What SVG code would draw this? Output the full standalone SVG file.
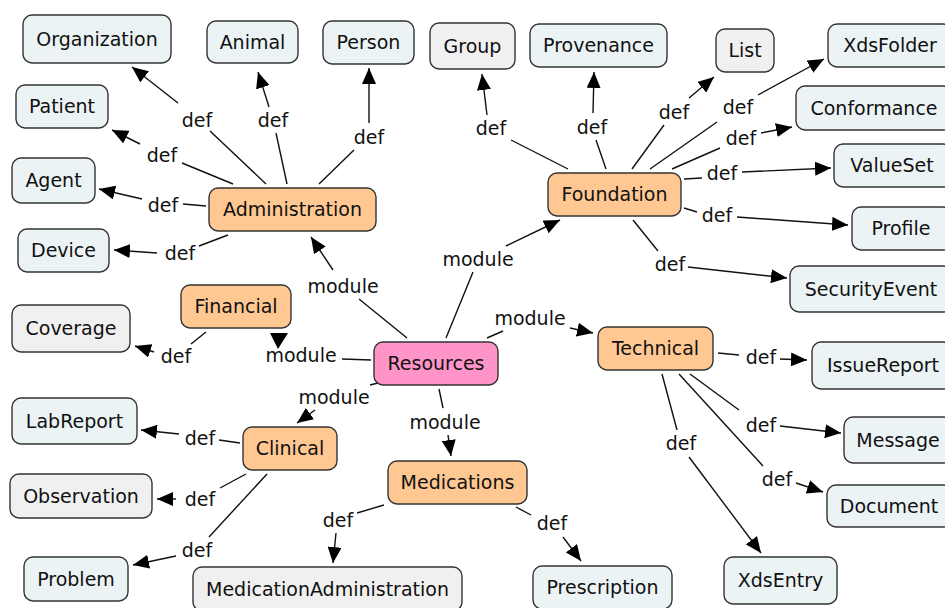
<svg xmlns="http://www.w3.org/2000/svg" width="945" height="608" viewBox="0 0 945 608">
<style>
text{font-family:"DejaVu Sans","Verdana",sans-serif;font-size:19px;fill:#111;text-anchor:middle}
.n rect{stroke:#333;stroke-width:1.4}
.b rect{fill:#ecf3f5}
.g rect{fill:#f0f0f0}
.o rect{fill:#ffc893}
.p rect{fill:#ff94c8}
#connectors line{stroke:#111;stroke-width:1.4;fill:none}
#connectors line.a{marker-end:url(#ah)}
</style>
<defs>
<marker id="ah" markerWidth="16" markerHeight="14" refX="16" refY="7" orient="auto" markerUnits="userSpaceOnUse"><path d="M0,0 L16,7 L0,14 z" fill="#000"/></marker>
</defs>
<rect width="945" height="608" fill="#fff"/>
<g id="connectors">
<line x1="266" y1="184" x2="210" y2="131"/><line class="a" x1="178" y1="103" x2="132" y2="67"/>
<line x1="233" y1="184" x2="182" y2="163"/><line class="a" x1="140" y1="144" x2="112" y2="130"/>
<line x1="206" y1="206" x2="183" y2="204"/><line class="a" x1="142" y1="199" x2="99" y2="189"/>
<line x1="228" y1="235" x2="199" y2="246"/><line class="a" x1="157" y1="253" x2="114" y2="250"/>
<line x1="287" y1="184" x2="276" y2="133"/><line class="a" x1="269" y1="107" x2="258" y2="72"/>
<line x1="319" y1="184" x2="354" y2="150"/><line class="a" x1="369" y1="123" x2="369" y2="68"/>
<line x1="407" y1="338" x2="359" y2="299"/><line class="a" x1="333" y1="270" x2="311" y2="237"/>
<line x1="568" y1="169" x2="511" y2="140"/><line class="a" x1="487" y1="115" x2="482" y2="74"/>
<line x1="606" y1="169" x2="596" y2="140"/><line class="a" x1="593" y1="113" x2="594" y2="72"/>
<line x1="632" y1="169" x2="664" y2="125"/><line class="a" x1="689" y1="98" x2="714" y2="77"/>
<line x1="650" y1="169" x2="717" y2="122"/><line class="a" x1="758" y1="95" x2="824" y2="59"/>
<line x1="672" y1="169" x2="720" y2="148"/><line class="a" x1="761" y1="133" x2="792" y2="127"/>
<line x1="684" y1="179" x2="702" y2="178"/><line class="a" x1="742" y1="172" x2="831" y2="168"/>
<line x1="684" y1="208" x2="697" y2="212"/><line class="a" x1="737" y1="217" x2="848" y2="225"/>
<line x1="633" y1="220" x2="658" y2="251"/><line class="a" x1="688" y1="267" x2="787" y2="278"/>
<line x1="446" y1="338" x2="473" y2="272"/><line class="a" x1="506" y1="246" x2="560" y2="220"/>
<line x1="487" y1="338" x2="503" y2="331"/><line class="a" x1="570" y1="328" x2="593" y2="333"/>
<line x1="371" y1="360" x2="342" y2="359"/><polygon points="270,333 288,333 278,349" fill="#000"/>
<line x1="206" y1="332" x2="191" y2="344"/><line class="a" x1="154" y1="352" x2="135" y2="346"/>
<line x1="378" y1="383" x2="370" y2="385"/><line class="a" x1="315" y1="410" x2="297" y2="423"/>
<line x1="240" y1="443" x2="219" y2="440"/><line class="a" x1="179" y1="434" x2="141" y2="430"/>
<line x1="246" y1="474" x2="220" y2="488"/><line class="a" x1="176" y1="499" x2="157" y2="499"/>
<line x1="267" y1="474" x2="209" y2="537"/><line class="a" x1="176" y1="556" x2="133" y2="565"/>
<line x1="439" y1="389" x2="443" y2="408"/><line class="a" x1="448" y1="435" x2="451" y2="456"/>
<line x1="384" y1="505" x2="357" y2="513"/><line class="a" x1="336" y1="533" x2="333" y2="563"/>
<line x1="516" y1="507" x2="531" y2="515"/><line class="a" x1="563" y1="537" x2="581" y2="561"/>
<line x1="718" y1="353" x2="739" y2="355"/><line class="a" x1="780" y1="359" x2="807" y2="360"/>
<line x1="690" y1="374" x2="739" y2="410"/><line class="a" x1="780" y1="426" x2="841" y2="433"/>
<line x1="679" y1="374" x2="763" y2="466"/><line class="a" x1="796" y1="483" x2="823" y2="492"/>
<line x1="662" y1="374" x2="677" y2="430"/><line class="a" x1="689" y1="457" x2="761" y2="553"/>
<g id="labels">
<text x="197" y="127">def</text><text x="162" y="162">def</text><text x="163" y="212">def</text>
<text x="180" y="260">def</text><text x="273" y="127">def</text><text x="369" y="144">def</text>
<text x="491" y="135">def</text><text x="592" y="134">def</text><text x="674" y="119">def</text>
<text x="738" y="114">def</text><text x="741" y="145">def</text><text x="722" y="180">def</text>
<text x="717" y="222">def</text><text x="670" y="271">def</text>
<text x="478" y="266">module</text><text x="343" y="293">module</text><text x="530" y="325">module</text>
<text x="301" y="362">module</text><text x="334" y="404">module</text><text x="445" y="429">module</text>
<text x="176" y="363">def</text>
<text x="200" y="445">def</text><text x="200" y="506">def</text><text x="197" y="557">def</text>
<text x="338" y="527">def</text><text x="552" y="530">def</text>
<text x="761" y="364">def</text><text x="761" y="432">def</text><text x="777" y="486">def</text><text x="681" y="450">def</text>
</g>
</g>
<g id="Organization" class="n b"><rect x="23" y="15" width="148" height="48" rx="9"/><text x="97" y="45.5">Organization</text></g>
<g id="Animal" class="n b"><rect x="207" y="21" width="91" height="42" rx="9"/><text x="252.5" y="48.5">Animal</text></g>
<g id="Person" class="n b"><rect x="323" y="21" width="91" height="43" rx="9"/><text x="368.5" y="49">Person</text></g>
<g id="Patient" class="n b"><rect x="16" y="85" width="92" height="43" rx="9"/><text x="62" y="113">Patient</text></g>
<g id="Agent" class="n b"><rect x="12" y="158" width="83" height="45" rx="9"/><text x="53.5" y="187">Agent</text></g>
<g id="Administration" class="n o"><rect x="209" y="188" width="167" height="43" rx="9"/><text x="292.5" y="216">Administration</text></g>
<g id="Device" class="n b"><rect x="18" y="229" width="91" height="43" rx="9"/><text x="63.5" y="257">Device</text></g>
<g id="Group" class="n g"><rect x="430" y="23" width="85" height="46" rx="9"/><text x="472.5" y="52.5">Group</text></g>
<g id="Provenance" class="n b"><rect x="530" y="24" width="137" height="43" rx="9"/><text x="598.5" y="52">Provenance</text></g>
<g id="List" class="n g"><rect x="716" y="29" width="58" height="43" rx="9"/><text x="745" y="57">List</text></g>
<g id="XdsFolder" class="n b"><rect x="828" y="24" width="124" height="43" rx="9"/><text x="890" y="52">XdsFolder</text></g>
<g id="Conformance" class="n b"><rect x="796" y="86" width="156" height="44" rx="9"/><text x="874" y="114.5">Conformance</text></g>
<g id="ValueSet" class="n b"><rect x="834" y="144" width="118" height="43" rx="9"/><text x="892" y="172">ValueSet</text></g>
<g id="Foundation" class="n o"><rect x="548" y="173" width="133" height="43" rx="9"/><text x="614.5" y="201">Foundation</text></g>
<g id="Profile" class="n b"><rect x="852" y="207" width="100" height="43" rx="9"/><text x="901" y="235">Profile</text></g>
<g id="SecurityEvent" class="n b"><rect x="790" y="266" width="162" height="46" rx="9"/><text x="871" y="295.5">SecurityEvent</text></g>
<g id="Financial" class="n o"><rect x="181" y="285" width="110" height="43" rx="9"/><text x="236" y="313">Financial</text></g>
<g id="Coverage" class="n g"><rect x="12" y="305" width="118" height="47" rx="9"/><text x="71" y="335">Coverage</text></g>
<g id="Resources" class="n p"><rect x="374" y="342" width="124" height="43" rx="9"/><text x="436" y="370">Resources</text></g>
<g id="LabReport" class="n b"><rect x="12" y="398" width="125" height="46" rx="9"/><text x="74.5" y="427.5">LabReport</text></g>
<g id="Clinical" class="n o"><rect x="243" y="427" width="94" height="43" rx="9"/><text x="290" y="455">Clinical</text></g>
<g id="Observation" class="n g"><rect x="10" y="474" width="142" height="44" rx="9"/><text x="81" y="502.5">Observation</text></g>
<g id="Medications" class="n o"><rect x="388" y="461" width="139" height="43" rx="9"/><text x="457.5" y="489">Medications</text></g>
<g id="Problem" class="n b"><rect x="24" y="557" width="104" height="44" rx="9"/><text x="76" y="585.5">Problem</text></g>
<g id="MedicationAdministration" class="n g"><rect x="193" y="567" width="269" height="44" rx="9"/><text x="327.5" y="595.5">MedicationAdministration</text></g>
<g id="Technical" class="n o"><rect x="598" y="327" width="115" height="43" rx="9"/><text x="655.5" y="355">Technical</text></g>
<g id="IssueReport" class="n b"><rect x="812" y="342" width="140" height="47" rx="9"/><text x="883" y="372">IssueReport</text></g>
<g id="Message" class="n b"><rect x="844" y="417" width="108" height="46" rx="9"/><text x="898" y="446.5">Message</text></g>
<g id="Document" class="n b"><rect x="827" y="485" width="125" height="42" rx="9"/><text x="889" y="512.5">Document</text></g>
<g id="Prescription" class="n b"><rect x="533" y="566" width="139" height="43" rx="9"/><text x="602.5" y="594">Prescription</text></g>
<g id="XdsEntry" class="n b"><rect x="724" y="557" width="113" height="47" rx="9"/><text x="780.5" y="587">XdsEntry</text></g>
</svg>
